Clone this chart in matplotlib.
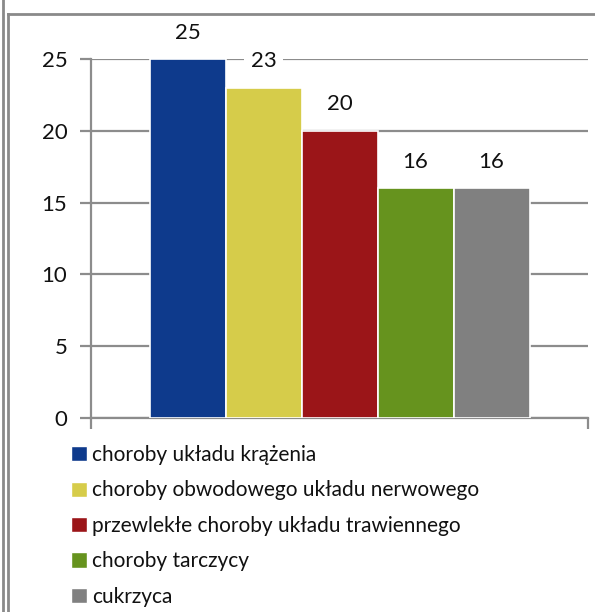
import matplotlib
matplotlib.use("Agg")
import matplotlib.pyplot as plt
from matplotlib.patches import Patch
from matplotlib.lines import Line2D
import numpy as np

# data
series = ["choroby układu krążenia",
          "choroby obwodowego układu nerwowego",
          "przewlekłe choroby układu trawiennego",
          "choroby tarczycy",
          "cukrzyca"]
values = [25, 23, 20, 16, 16]
colors = ["#0E3A8C", "#D6CC4A", "#9B1518", "#66931E", "#808080"]
yticks = [0, 5, 10, 15, 20, 25]

plt.rcParams["font.family"] = ["Lato", "DejaVu Sans"]
W, H = 595, 612
fig = plt.figure(figsize=(W / 100, H / 100), dpi=100)

# axes placed in pixel terms: x 91..588, y 59..418
ax = fig.add_axes([91 / W, 1 - 418 / H, (588 - 91) / W, (418 - 59) / H])
bw = 76 / 497
xs = (np.arange(len(values)) - 2) * bw
ax.bar(xs, values, width=bw, color=colors, edgecolor="white", linewidth=1.2, zorder=3)
ax.set_xlim(-0.5, 0.5)
ax.set_ylim(0, 25)

for x, v in zip(xs, values):
    ax.annotate(str(v), (x, v), xytext=(0, 19), textcoords="offset points",
                ha="center", va="center", fontsize=16, color="#111111",
                bbox=dict(boxstyle="square,pad=0.3", fc="white", ec="none"),
                zorder=5, annotation_clip=False)

grey = "#8C8C8C"
ax.set_yticks(yticks)
ax.set_xticks([-0.5, 0.5])
ax.set_xticklabels([])
ax.yaxis.grid(True, color=grey, linewidth=1.6, zorder=0)
ax.tick_params(axis="y", length=8, width=1.6, color=grey, labelsize=16, pad=9, labelcolor="#111111")
ax.tick_params(axis="x", length=8, width=1.6, color=grey)
for s in ["top", "right"]:
    ax.spines[s].set_visible(False)
for s in ["left", "bottom"]:
    ax.spines[s].set_color(grey)
    ax.spines[s].set_linewidth(1.6)

handles = [Patch(facecolor=c, edgecolor="white") for c in colors]
fig.legend(handles, series, loc="upper left", bbox_to_anchor=(71 / W, 1 - 445 / H),
           frameon=False, fontsize=15, handlelength=0.75, handleheight=0.75,
           handletextpad=0.25, labelspacing=0.74, borderaxespad=0, borderpad=0,
           labelcolor="#111111")

# outer frame lines
fc = "#8A8A8A"
fig.add_artist(Line2D([3 / W, 3 / W], [0, 1], color=fc, linewidth=2))
fig.add_artist(Line2D([8 / W, 8 / W], [0, 1 - 14 / H], color=fc, linewidth=2))
fig.add_artist(Line2D([8 / W, 1], [1 - 14 / H, 1 - 14 / H], color=fc, linewidth=2))

fig.savefig("out.png", dpi=100)
